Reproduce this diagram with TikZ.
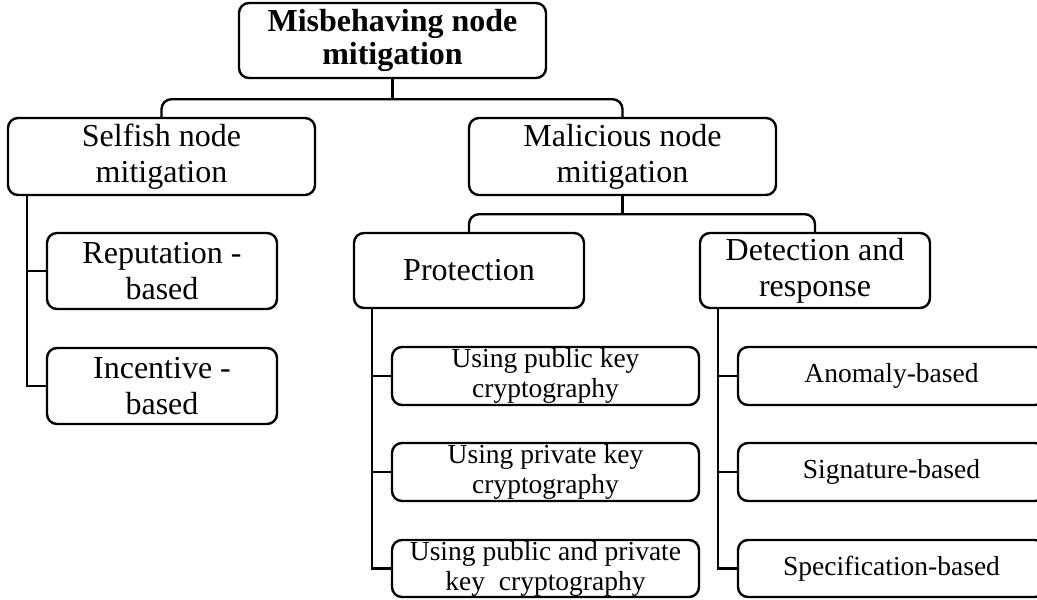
\documentclass[tikz,border=0pt]{standalone}
\usepackage{fontspec}
\setmainfont{Liberation Serif}
\begin{document}
\begin{tikzpicture}[x=1pt,y=-1pt,
  box/.style={draw, line width=2.4pt, rounded corners=10pt, align=center, inner sep=0pt},
  top/.style={font=\fontsize{32}{33}\selectfont\bfseries},
  big/.style={font=\fontsize{32}{36}\selectfont},
  small/.style={font=\fontsize{27.5}{30}\selectfont},
  wide/.style={minimum width=307pt},
  narrow/.style={minimum width=230pt},
  link/.style={line width=2.4pt, rounded corners=10pt},
  branch/.style={line width=2.4pt}
]
\clip (0,0) rectangle (1037,600);

% level 0
\node[box,top,wide,minimum height=75pt] (root) at (392.5,40.5) {Misbehaving node\\mitigation};

% level 1
\node[box,big,wide,minimum height=77pt] (selfish) at (161.5,156.5) {Selfish node\\mitigation};
\node[box,big,wide,minimum height=77pt] (malicious) at (622.5,156.5) {Malicious node\\mitigation};

% selfish children
\node[box,big,narrow,minimum height=76pt] (reputation) at (162,271) {Reputation -\\based};
\node[box,big,narrow,minimum height=76pt] (incentive) at (162,386) {Incentive -\\based};

% malicious children
\node[box,big,narrow,minimum height=75pt] (protection) at (469,270.5) {Protection};
\node[box,big,narrow,minimum height=75pt] (detection) at (815,270.5) {Detection and\\response};

% protection leaves
\node[box,small,wide,minimum height=58pt] (pub) at (545.5,376) {Using public key\\cryptography};
\node[box,small,wide,minimum height=58pt] (priv) at (545.5,472) {Using private key\\cryptography};
\node[box,small,wide,minimum height=57pt] (both) at (545.5,568.5) {Using public and private\\key~ cryptography};

% detection leaves
\node[box,small,wide,minimum height=58pt] (anomaly) at (891.5,376) {Anomaly-based};
\node[box,small,wide,minimum height=58pt] (signature) at (891.5,472) {Signature-based};
\node[box,small,wide,minimum height=57pt] (spec) at (891.5,568.5) {Specification-based};

% root to level 1
\draw[branch] (root.south) -- ++(0,20);
\draw[link] (selfish.north) |- ([yshift=-20pt]root.south) -| (malicious.north);

% malicious to its children
\draw[branch] (malicious.south) -- ++(0,18);
\draw[link] (protection.north) |- ([yshift=-18pt]malicious.south) -| (detection.north);

% selfish branch
\coordinate (sv) at ([xshift=20pt]selfish.south west);
\draw[branch] (sv) |- (incentive.west);
\draw[branch] (reputation.west) -- (reputation.west -| sv);

% protection branch
\coordinate (pv) at ([xshift=19pt]protection.south west);
\draw[branch] (pv) |- (both.west);
\draw[branch] (pub.west) -- (pub.west -| pv);
\draw[branch] (priv.west) -- (priv.west -| pv);

% detection branch
\coordinate (dv) at ([xshift=19pt]detection.south west);
\draw[branch] (dv) |- (spec.west);
\draw[branch] (anomaly.west) -- (anomaly.west -| dv);
\draw[branch] (signature.west) -- (signature.west -| dv);
\end{tikzpicture}
\end{document}
